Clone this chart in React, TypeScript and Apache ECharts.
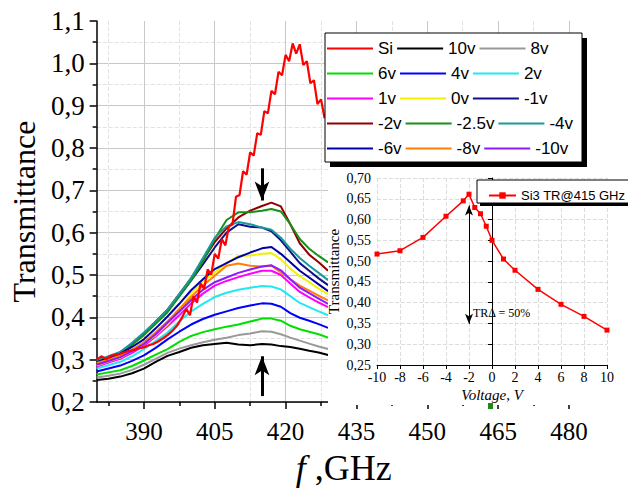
import React, { useEffect, useRef } from 'react';
import * as echarts from 'echarts';

// ---------- main chart data ----------
const FREQ = [380, 382.5, 385, 387.5, 390, 392.5, 395, 397.5, 400, 402.5, 405, 407.5, 410, 412.5, 415, 417, 419, 421, 423, 425, 427, 429];

const T_10V = [0.252, 0.255, 0.260, 0.268, 0.279, 0.295, 0.309, 0.318, 0.328, 0.334, 0.337, 0.340, 0.336, 0.334, 0.337, 0.336, 0.332, 0.330, 0.326, 0.321, 0.317, 0.311];
const T_8V = [0.258, 0.262, 0.267, 0.276, 0.288, 0.302, 0.316, 0.326, 0.334, 0.341, 0.347, 0.352, 0.358, 0.362, 0.367, 0.366, 0.360, 0.352, 0.345, 0.338, 0.331, 0.325];
const T_6V = [0.265, 0.270, 0.275, 0.285, 0.298, 0.312, 0.325, 0.342, 0.356, 0.365, 0.372, 0.378, 0.383, 0.390, 0.397, 0.397, 0.392, 0.380, 0.372, 0.366, 0.360, 0.352];
const T_4V = [0.272, 0.279, 0.286, 0.297, 0.310, 0.328, 0.348, 0.366, 0.383, 0.396, 0.406, 0.414, 0.422, 0.428, 0.433, 0.432, 0.425, 0.410, 0.399, 0.392, 0.384, 0.375];
const T_2V = [0.279, 0.287, 0.295, 0.308, 0.325, 0.344, 0.364, 0.390, 0.414, 0.432, 0.448, 0.458, 0.465, 0.470, 0.474, 0.473, 0.466, 0.450, 0.434, 0.424, 0.414, 0.405];
const T_1V = [0.284, 0.293, 0.302, 0.316, 0.333, 0.355, 0.379, 0.405, 0.433, 0.456, 0.475, 0.486, 0.495, 0.503, 0.510, 0.510, 0.500, 0.480, 0.460, 0.447, 0.435, 0.424];
const T_0V = [0.286, 0.296, 0.305, 0.320, 0.337, 0.358, 0.383, 0.418, 0.456, 0.485, 0.506, 0.528, 0.545, 0.546, 0.550, 0.552, 0.537, 0.515, 0.497, 0.483, 0.468, 0.455];
const T_M1V = [0.296, 0.306, 0.316, 0.336, 0.360, 0.386, 0.414, 0.450, 0.487, 0.525, 0.565, 0.600, 0.620, 0.614, 0.612, 0.603, 0.582, 0.555, 0.528, 0.510, 0.492, 0.476];
const T_M2V = [0.297, 0.305, 0.318, 0.338, 0.362, 0.390, 0.418, 0.455, 0.492, 0.535, 0.578, 0.610, 0.636, 0.652, 0.663, 0.671, 0.662, 0.620, 0.575, 0.548, 0.530, 0.510];
const T_M25V = [0.295, 0.303, 0.315, 0.335, 0.358, 0.385, 0.412, 0.450, 0.487, 0.532, 0.585, 0.630, 0.648, 0.648, 0.652, 0.656, 0.650, 0.620, 0.585, 0.562, 0.545, 0.530];
const T_M4V = [0.298, 0.308, 0.318, 0.340, 0.364, 0.390, 0.418, 0.455, 0.493, 0.540, 0.588, 0.615, 0.625, 0.620, 0.612, 0.607, 0.588, 0.562, 0.540, 0.522, 0.505, 0.488];
const T_M6V = [0.294, 0.304, 0.314, 0.330, 0.348, 0.374, 0.402, 0.432, 0.464, 0.490, 0.514, 0.528, 0.542, 0.553, 0.563, 0.566, 0.550, 0.530, 0.510, 0.494, 0.478, 0.462];
const T_M8V = [0.292, 0.300, 0.310, 0.324, 0.341, 0.365, 0.391, 0.420, 0.448, 0.475, 0.498, 0.522, 0.527, 0.522, 0.520, 0.522, 0.506, 0.490, 0.475, 0.463, 0.451, 0.440];
const T_M10V = [0.288, 0.297, 0.306, 0.320, 0.337, 0.360, 0.387, 0.414, 0.441, 0.465, 0.483, 0.494, 0.505, 0.513, 0.520, 0.523, 0.511, 0.490, 0.470, 0.457, 0.444, 0.432];

// Si (no bias) – oscillating curve
const SI_FREQ = [380, 381, 382, 383, 384, 385, 386, 387, 388, 389, 390, 391, 392, 393, 394, 395, 396, 397, 398,
  399, 399.75, 400.5, 401.25, 402, 402.75, 403.5, 404.25, 405, 405.75, 406.5, 407.25, 408, 408.75, 409.5, 410.25,
  411, 411.75, 412.5, 413.25, 414, 414.75, 415.5, 416.25, 417, 417.75, 418.5, 419.25, 420, 420.75, 421.5, 422.25,
  423, 423.75, 424.5, 425.25, 426, 426.75, 427.5, 428.25, 429];
const SI_T = [0.300, 0.308, 0.301, 0.309, 0.312, 0.314, 0.318, 0.321, 0.323, 0.327, 0.329, 0.334, 0.337, 0.343, 0.350, 0.358, 0.368, 0.380, 0.398,
  0.420, 0.405, 0.450, 0.435, 0.480, 0.467, 0.513, 0.501, 0.550, 0.539, 0.585, 0.570, 0.615, 0.619, 0.685, 0.689,
  0.745, 0.737, 0.790, 0.782, 0.835, 0.831, 0.887, 0.882, 0.935, 0.927, 0.980, 0.972, 1.020, 1.005, 1.047, 1.023,
  1.045, 0.996, 1.005, 0.953, 0.960, 0.904, 0.915, 0.871, 0.890];

const SERIES_NAMES = ['Si', '10v', '8v', '6v', '4v', '2v', '1v', '0v', '-1v', '-2v', '-2.5v', '-4v', '-6v', '-8v', '-10v'];
const SERIES_COLORS = ['#ff0000', '#000000', '#999999', '#00e000', '#0000ff', '#22e8f2', '#ff00ff', '#f2f200', '#10108a', '#900000', '#169016', '#199a9a', '#0000a8', '#ff8000', '#8c1aff'];
const VOLT_SERIES = [T_10V, T_8V, T_6V, T_4V, T_2V, T_1V, T_0V, T_M1V, T_M2V, T_M25V, T_M4V, T_M6V, T_M8V, T_M10V];

const X_MAJOR = [390, 405, 420, 435, 450, 465, 480];
const X_MINOR = [382.5, 397.5, 412.5, 427.5, 442.5, 457.5, 472.5];

// ---------- inset data ----------
const VOLTAGE = [-10, -8, -6, -4, -2.5, -2, -1.5, -1, -0.5, 0, 1, 2, 4, 6, 8, 10];
const TR_415 = [0.517, 0.525, 0.557, 0.608, 0.645, 0.661, 0.629, 0.614, 0.584, 0.550, 0.505, 0.478, 0.432, 0.396, 0.367, 0.334];
const INSET_NAME = 'Si3 TR@415 GHz';

const SERIF = '"Liberation Serif", "Times New Roman", serif';
const SANS = '"Liberation Sans", Arial, sans-serif';

function buildOption(): any {
  const series: any[] = [];
  VOLT_SERIES.forEach((vals, k) => {
    const idx = k + 1;
    series.push({
      type: 'line',
      name: SERIES_NAMES[idx],
      xAxisIndex: 0,
      yAxisIndex: 0,
      data: FREQ.map((f, i) => [f, vals[i]]),
      symbol: 'none',
      lineStyle: { color: SERIES_COLORS[idx], width: 2 },
      itemStyle: { color: SERIES_COLORS[idx] },
      z: 2,
      silent: true,
      markLine: k === 0 ? {
        silent: true,
        animation: false,
        symbol: ['none', 'arrow'],
        label: { show: false },
        lineStyle: { color: '#000', width: 3, type: 'solid' },
        data: [
          [{ coord: [415, 0.752], symbol: 'none' }, { coord: [415, 0.676], symbol: 'arrow', symbolSize: [11, 19] }],
          [{ coord: [415, 0.214], symbol: 'none' }, { coord: [415, 0.308], symbol: 'arrow', symbolSize: [11, 19] }],
        ],
      } : undefined,
    });
  });
  series.push({
    type: 'line',
    name: SERIES_NAMES[0],
    xAxisIndex: 0,
    yAxisIndex: 0,
    data: SI_FREQ.map((f, i) => [f, SI_T[i]]),
    symbol: 'none',
    lineStyle: { color: SERIES_COLORS[0], width: 2.2 },
    itemStyle: { color: SERIES_COLORS[0] },
    z: 2,
    silent: true,
  });
  series.push({
    type: 'line',
    name: INSET_NAME,
    xAxisIndex: 2,
    yAxisIndex: 1,
    data: VOLTAGE.map((v, i) => [v, TR_415[i]]),
    symbol: 'rect',
    symbolSize: 5,
    lineStyle: { color: '#ff0000', width: 1.5 },
    itemStyle: { color: '#ff0000' },
    z: 5,
    silent: true,
    markLine: {
      silent: true,
      animation: false,
      label: { show: false },
      lineStyle: { color: '#000', width: 1, type: 'solid' },
      data: [
        [{ coord: [-2, 0.634], symbol: 'arrow', symbolSize: [6, 10] }, { coord: [-2, 0.349], symbol: 'arrow', symbolSize: [6, 10] }],
      ],
    },
  });

  return {
    animation: false,
    backgroundColor: '#ffffff',
    grid: [
      { left: 93, top: 21, width: 476, height: 390 },
      { left: 377, top: 178, width: 230, height: 187 },
    ],
    legend: [
      {
        data: SERIES_NAMES,
        left: 327,
        top: 38,
        width: 255,
        orient: 'horizontal',
        icon: 'rect',
        itemGap: 4,
        itemWidth: 46,
        itemHeight: 2,
        padding: 0,
        selectedMode: false,
        textStyle: { fontSize: 17, fontFamily: SANS, color: '#000', lineHeight: 21 },
        z: 10,
      },
      {
        data: [INSET_NAME],
        left: 488,
        top: 189,
        itemWidth: 27,
        itemHeight: 8,
        itemGap: 4,
        padding: 0,
        selectedMode: false,
        textStyle: { fontSize: 13, fontFamily: SANS, color: '#000' },
        z: 10,
      },
    ],
    xAxis: [
      {
        type: 'value',
        gridIndex: 0,
        min: 380,
        max: 480,
        z: 0,
        axisLine: { show: true, lineStyle: { color: '#000', width: 1.5 } },
        axisTick: { show: true, customValues: X_MAJOR, length: 7, lineStyle: { color: '#000', width: 1.5 } },
        axisLabel: { customValues: X_MAJOR, fontSize: 25, fontFamily: SERIF, color: '#000', margin: 17 },
        splitLine: { show: true, lineStyle: { color: '#c8c8c8', width: 1 } },
        name: '{i|f} ,GHz',
        nameLocation: 'middle',
        nameGap: 48,
        nameTextStyle: {
          fontSize: 36, fontFamily: SERIF, color: '#000', padding: [0, 0, 0, 22],
          rich: { i: { fontSize: 36, fontFamily: SERIF, fontStyle: 'italic', color: '#000' } },
        },
      },
      {
        type: 'value',
        gridIndex: 0,
        min: 380,
        max: 480,
        position: 'bottom',
        z: 0,
        axisLine: { show: false },
        axisTick: { show: true, customValues: X_MINOR, length: 4, lineStyle: { color: '#000', width: 1.5 } },
        axisLabel: { show: false },
        splitLine: { show: true, lineStyle: { color: '#e2e2e2', width: 1, type: 'dashed' } },
      },
      {
        type: 'value',
        gridIndex: 1,
        min: -10,
        max: 10,
        interval: 2,
        z: 4,
        axisLine: { show: true, lineStyle: { color: '#000', width: 1 } },
        axisTick: { show: true, length: 4, lineStyle: { color: '#000' } },
        axisLabel: { fontSize: 14, fontFamily: SERIF, color: '#000', margin: 5 },
        splitLine: { show: true, lineStyle: { color: '#dcdcdc', width: 1, type: 'dashed' } },
        name: 'Voltage, V',
        nameLocation: 'middle',
        nameGap: 22,
        nameTextStyle: { fontSize: 15, fontFamily: SERIF, fontStyle: 'italic', color: '#000' },
      },
    ],
    yAxis: [
      {
        type: 'value',
        gridIndex: 0,
        min: 0.2,
        max: 1.1,
        interval: 0.1,
        z: 0,
        axisLine: { show: true, lineStyle: { color: '#000', width: 1.5 } },
        axisTick: { show: true, length: 7, lineStyle: { color: '#000', width: 1.5 } },
        minorTick: { show: true, splitNumber: 2, length: 4, lineStyle: { color: '#000', width: 1.5 } },
        axisLabel: {
          formatter: (v: number) => v.toFixed(1).replace('.', ','),
          fontSize: 27, fontFamily: SERIF, color: '#000', margin: 12,
        },
        splitLine: { show: true, showMaxLine: false, lineStyle: { color: '#c8c8c8', width: 1 } },
        minorSplitLine: { show: true, lineStyle: { color: '#e2e2e2', width: 1, type: 'dashed' } },
        name: 'Transmittance',
        nameLocation: 'middle',
        nameGap: 50,
        nameTextStyle: { fontSize: 32, fontFamily: SERIF, color: '#000' },
      },
      {
        type: 'value',
        gridIndex: 1,
        min: 0.25,
        max: 0.7,
        interval: 0.05,
        z: 4,
        axisLine: { show: true, lineStyle: { color: '#000', width: 1 } },
        axisTick: { show: true, length: 4, lineStyle: { color: '#000' } },
        axisLabel: {
          formatter: (v: number) => v.toFixed(2).replace('.', ','),
          fontSize: 14, fontFamily: SERIF, color: '#000', margin: 6,
        },
        splitLine: { show: true, lineStyle: { color: '#dcdcdc', width: 1, type: 'dashed' } },
        name: 'Transmittance',
        nameLocation: 'middle',
        nameGap: 36,
        nameTextStyle: { fontSize: 15, fontFamily: SERIF, color: '#000' },
      },
    ],
    graphic: {
      elements: [
        { type: 'rect', z: 3, silent: true, shape: { x: 328, y: 167, width: 300, height: 238 }, style: { fill: '#ffffff' } },
        { type: 'rect', z: 3, silent: true, shape: { x: 488, y: 403, width: 5, height: 6 }, style: { fill: '#1a8a1a' } },
        { type: 'rect', z: 6, silent: true, shape: { x: 330, y: 38, width: 257, height: 129 }, style: { fill: '#000' } },
        { type: 'rect', z: 7, silent: true, shape: { x: 325, y: 33, width: 257, height: 129 }, style: { fill: '#fff', stroke: '#000', lineWidth: 1 } },
        { type: 'rect', z: 6, silent: true, shape: { x: 480, y: 183, width: 170, height: 23 }, style: { fill: '#000' } },
        { type: 'rect', z: 7, silent: true, shape: { x: 477, y: 180, width: 170, height: 23 }, style: { fill: '#fff', stroke: '#000', lineWidth: 1 } },
        {
          type: 'text', z: 8, silent: true, x: 473, y: 313,
          style: { text: 'TRΔ = 50%', font: '12px ' + SERIF, fill: '#000', verticalAlign: 'middle', align: 'left' },
        },
      ],
    },
    series,
  };
}

export default function App() {
  const ref = useRef<HTMLDivElement>(null);
  useEffect(() => {
    if (!ref.current) return;
    const chart = echarts.init(ref.current, null, { renderer: 'svg' });
    chart.setOption(buildOption());
    return () => chart.dispose();
  }, []);
  return <div ref={ref} style={{ position: 'absolute', left: 0, top: 0, width: 628, height: 491 }} />;
}
